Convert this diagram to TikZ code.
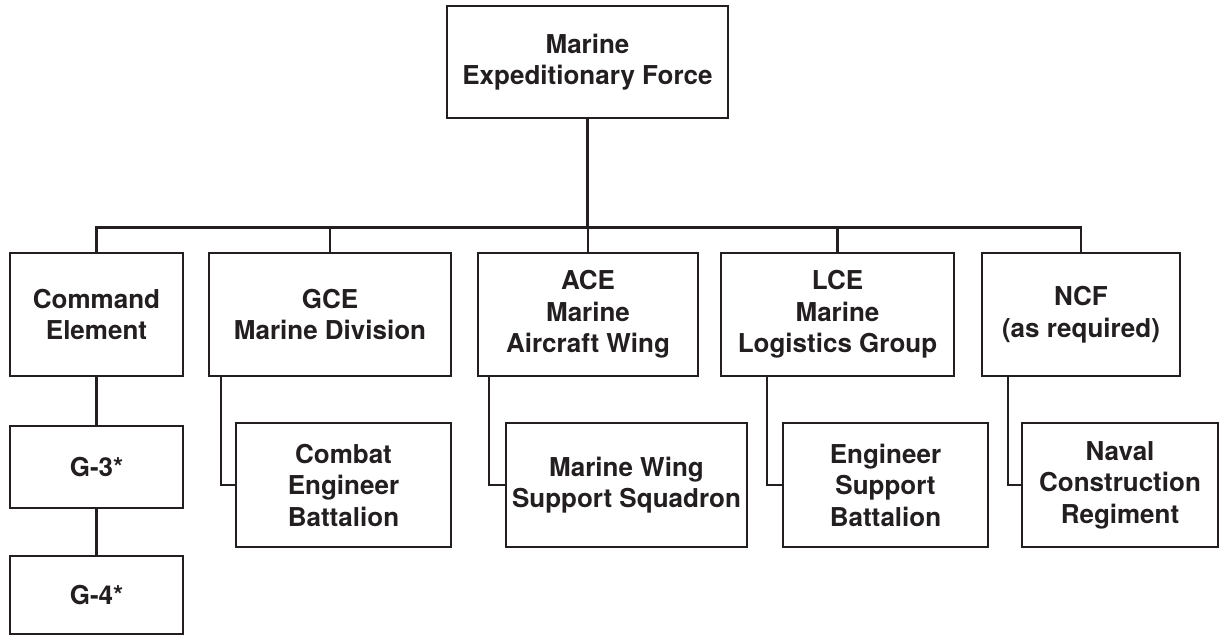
\documentclass[tikz,border=0pt]{standalone}
\usepackage{fontspec}
\setmainfont{TeX Gyre Heros}
\definecolor{ink}{HTML}{231F20}
\begin{document}
\begin{tikzpicture}[x=1pt,y=-1pt,
  orgbox/.style={draw=ink,line width=2.5pt,rectangle,inner sep=0pt,align=center,
    text=ink,font=\bfseries\fontsize{26}{31.5}\selectfont},
  link/.style={draw=ink,line width=2.5pt}]
\useasboundingbox (0,0) rectangle (1221,636);

% top command
\node[orgbox,minimum width=281pt,minimum height=112pt] (mef) at (587.5,62) {Marine\\Expeditionary Force};

% major subordinate elements
\node[orgbox,minimum width=173pt,minimum height=123pt] (ce)  at (96.5,314.5) {Command\\Element};
\node[orgbox,minimum width=242pt,minimum height=123pt] (gce) at (330,314.5) {GCE\\Marine Division};
\node[orgbox,minimum width=220pt,minimum height=123pt] (ace) at (588,314.5) {ACE\\Marine\\Aircraft Wing};
\node[orgbox,minimum width=233pt,minimum height=123pt] (lce) at (837.5,314.5) {LCE\\Marine\\Logistics Group};
\node[orgbox,minimum width=198pt,minimum height=123pt] (ncf) at (1081,314.5) {NCF\\(as required)};

% staff sections under the command element
\node[orgbox,minimum width=173pt,minimum height=82pt] (g3) at (96.5,467) {G-3*};
\node[orgbox,minimum width=173pt,minimum height=78pt] (g4) at (96.5,595) {G-4*};

% engineer units
\node[orgbox,minimum width=215pt,minimum height=124pt] (ceb)  at (343.5,485) {Combat\\Engineer\\Battalion};
\node[orgbox,minimum width=241pt,minimum height=124pt] (mwss) at (626.5,485) {Marine Wing\\Support Squadron};
\node[orgbox,minimum width=205pt,minimum height=124pt] (esb)  at (885.5,485) {Engineer\\Support\\Battalion};
\node[orgbox,minimum width=196pt,minimum height=124pt] (ncr)  at (1120,485) {Naval\\Construction\\Regiment};

% bus line joining the top command to its elements
\coordinate (bus) at (0,227.5);
\draw[link] (mef.south) -- (mef.south |- bus);
\draw[link] (ce.north) |- (ncf.north |- bus) -- (ncf.north);
\draw[link] (gce.north) -- (gce.north |- bus);
\draw[link] (ace.north) -- (ace.north |- bus);
\draw[link] (lce.north) -- (lce.north |- bus);

% command element chain
\draw[link] (ce.south) -- (g3.north);
\draw[link] (g3.south) -- (g4.north);

% elbow connectors to the engineer units
\draw[link] ([xshift=13pt]gce.south west) |- (ceb.west);
\draw[link] ([xshift=12pt]ace.south west) |- (mwss.west);
\draw[link] ([xshift=47pt]lce.south west) |- (esb.west);
\draw[link] ([xshift=27pt]ncf.south west) |- (ncr.west);
\end{tikzpicture}
\end{document}
